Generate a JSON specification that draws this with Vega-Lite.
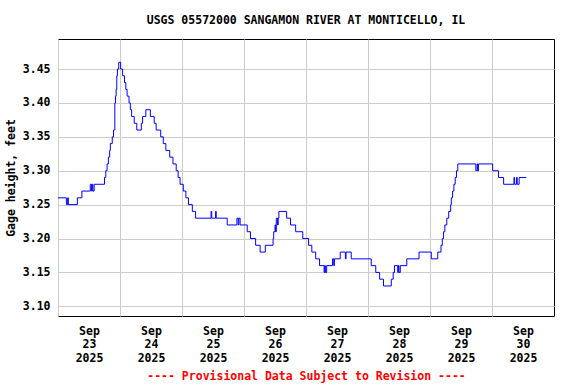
{
  "$schema": "https://vega.github.io/schema/vega-lite/v6.json",
  "width": 496,
  "height": 277,
  "autosize": {"type": "none"},
  "padding": {"left": 58, "top": 39, "right": 22, "bottom": 68},
  "background": "white",
  "title": {"text": "USGS 05572000 SANGAMON RIVER AT MONTICELLO, IL", "font": "DejaVu Sans Mono", "fontSize": 11.5, "fontWeight": "bold", "color": "black", "anchor": "middle", "offset": 13},
  "config": {"view": {"stroke": "black", "strokeWidth": 1}},
  "data": {"values": [
    {"t": "2025-09-23T00:00Z", "v": 3.26},
    {"t": "2025-09-23T03:15Z", "v": 3.25},
    {"t": "2025-09-23T03:45Z", "v": 3.26},
    {"t": "2025-09-23T04:00Z", "v": 3.25},
    {"t": "2025-09-23T07:30Z", "v": 3.26},
    {"t": "2025-09-23T09:15Z", "v": 3.27},
    {"t": "2025-09-23T12:30Z", "v": 3.28},
    {"t": "2025-09-23T13:00Z", "v": 3.27},
    {"t": "2025-09-23T13:15Z", "v": 3.28},
    {"t": "2025-09-23T13:30Z", "v": 3.27},
    {"t": "2025-09-23T14:00Z", "v": 3.28},
    {"t": "2025-09-23T18:00Z", "v": 3.29},
    {"t": "2025-09-23T18:30Z", "v": 3.30},
    {"t": "2025-09-23T19:00Z", "v": 3.31},
    {"t": "2025-09-23T19:30Z", "v": 3.32},
    {"t": "2025-09-23T20:00Z", "v": 3.33},
    {"t": "2025-09-23T20:15Z", "v": 3.34},
    {"t": "2025-09-23T21:00Z", "v": 3.35},
    {"t": "2025-09-23T21:30Z", "v": 3.36},
    {"t": "2025-09-23T22:00Z", "v": 3.40},
    {"t": "2025-09-23T22:15Z", "v": 3.41},
    {"t": "2025-09-23T22:30Z", "v": 3.42},
    {"t": "2025-09-23T22:45Z", "v": 3.44},
    {"t": "2025-09-23T23:00Z", "v": 3.45},
    {"t": "2025-09-23T23:30Z", "v": 3.46},
    {"t": "2025-09-24T00:15Z", "v": 3.45},
    {"t": "2025-09-24T01:00Z", "v": 3.44},
    {"t": "2025-09-24T01:45Z", "v": 3.43},
    {"t": "2025-09-24T02:15Z", "v": 3.42},
    {"t": "2025-09-24T02:45Z", "v": 3.41},
    {"t": "2025-09-24T03:30Z", "v": 3.40},
    {"t": "2025-09-24T04:00Z", "v": 3.39},
    {"t": "2025-09-24T04:30Z", "v": 3.38},
    {"t": "2025-09-24T05:30Z", "v": 3.37},
    {"t": "2025-09-24T06:30Z", "v": 3.36},
    {"t": "2025-09-24T08:15Z", "v": 3.37},
    {"t": "2025-09-24T08:45Z", "v": 3.38},
    {"t": "2025-09-24T10:00Z", "v": 3.39},
    {"t": "2025-09-24T11:45Z", "v": 3.38},
    {"t": "2025-09-24T13:15Z", "v": 3.37},
    {"t": "2025-09-24T14:00Z", "v": 3.36},
    {"t": "2025-09-24T15:45Z", "v": 3.35},
    {"t": "2025-09-24T16:45Z", "v": 3.34},
    {"t": "2025-09-24T17:45Z", "v": 3.33},
    {"t": "2025-09-24T19:15Z", "v": 3.32},
    {"t": "2025-09-24T20:30Z", "v": 3.31},
    {"t": "2025-09-24T21:45Z", "v": 3.30},
    {"t": "2025-09-24T22:30Z", "v": 3.29},
    {"t": "2025-09-24T23:15Z", "v": 3.28},
    {"t": "2025-09-25T00:30Z", "v": 3.27},
    {"t": "2025-09-25T01:30Z", "v": 3.26},
    {"t": "2025-09-25T02:30Z", "v": 3.25},
    {"t": "2025-09-25T04:00Z", "v": 3.24},
    {"t": "2025-09-25T05:15Z", "v": 3.23},
    {"t": "2025-09-25T11:15Z", "v": 3.24},
    {"t": "2025-09-25T11:30Z", "v": 3.23},
    {"t": "2025-09-25T13:00Z", "v": 3.24},
    {"t": "2025-09-25T13:15Z", "v": 3.23},
    {"t": "2025-09-25T17:30Z", "v": 3.22},
    {"t": "2025-09-25T21:15Z", "v": 3.23},
    {"t": "2025-09-25T21:45Z", "v": 3.22},
    {"t": "2025-09-25T22:00Z", "v": 3.23},
    {"t": "2025-09-25T22:30Z", "v": 3.22},
    {"t": "2025-09-26T01:15Z", "v": 3.21},
    {"t": "2025-09-26T02:30Z", "v": 3.20},
    {"t": "2025-09-26T04:30Z", "v": 3.19},
    {"t": "2025-09-26T06:15Z", "v": 3.18},
    {"t": "2025-09-26T08:15Z", "v": 3.19},
    {"t": "2025-09-26T11:15Z", "v": 3.20},
    {"t": "2025-09-26T11:30Z", "v": 3.21},
    {"t": "2025-09-26T12:00Z", "v": 3.22},
    {"t": "2025-09-26T12:15Z", "v": 3.21},
    {"t": "2025-09-26T12:30Z", "v": 3.23},
    {"t": "2025-09-26T13:00Z", "v": 3.22},
    {"t": "2025-09-26T13:15Z", "v": 3.23},
    {"t": "2025-09-26T13:30Z", "v": 3.24},
    {"t": "2025-09-26T16:30Z", "v": 3.23},
    {"t": "2025-09-26T18:00Z", "v": 3.22},
    {"t": "2025-09-26T20:00Z", "v": 3.21},
    {"t": "2025-09-26T22:45Z", "v": 3.20},
    {"t": "2025-09-27T01:00Z", "v": 3.19},
    {"t": "2025-09-27T02:15Z", "v": 3.18},
    {"t": "2025-09-27T03:45Z", "v": 3.17},
    {"t": "2025-09-27T05:15Z", "v": 3.16},
    {"t": "2025-09-27T07:00Z", "v": 3.15},
    {"t": "2025-09-27T07:15Z", "v": 3.16},
    {"t": "2025-09-27T07:30Z", "v": 3.15},
    {"t": "2025-09-27T08:00Z", "v": 3.16},
    {"t": "2025-09-27T10:15Z", "v": 3.17},
    {"t": "2025-09-27T10:45Z", "v": 3.16},
    {"t": "2025-09-27T11:00Z", "v": 3.17},
    {"t": "2025-09-27T13:15Z", "v": 3.18},
    {"t": "2025-09-27T15:15Z", "v": 3.17},
    {"t": "2025-09-27T15:30Z", "v": 3.18},
    {"t": "2025-09-27T17:30Z", "v": 3.17},
    {"t": "2025-09-28T01:15Z", "v": 3.16},
    {"t": "2025-09-28T03:00Z", "v": 3.15},
    {"t": "2025-09-28T04:30Z", "v": 3.14},
    {"t": "2025-09-28T06:00Z", "v": 3.13},
    {"t": "2025-09-28T09:00Z", "v": 3.14},
    {"t": "2025-09-28T09:45Z", "v": 3.15},
    {"t": "2025-09-28T10:15Z", "v": 3.16},
    {"t": "2025-09-28T11:30Z", "v": 3.15},
    {"t": "2025-09-28T11:45Z", "v": 3.16},
    {"t": "2025-09-28T12:00Z", "v": 3.15},
    {"t": "2025-09-28T12:30Z", "v": 3.16},
    {"t": "2025-09-28T15:00Z", "v": 3.17},
    {"t": "2025-09-28T19:45Z", "v": 3.18},
    {"t": "2025-09-29T00:30Z", "v": 3.17},
    {"t": "2025-09-29T03:00Z", "v": 3.18},
    {"t": "2025-09-29T04:15Z", "v": 3.19},
    {"t": "2025-09-29T04:45Z", "v": 3.20},
    {"t": "2025-09-29T05:15Z", "v": 3.21},
    {"t": "2025-09-29T05:45Z", "v": 3.22},
    {"t": "2025-09-29T06:30Z", "v": 3.23},
    {"t": "2025-09-29T07:15Z", "v": 3.24},
    {"t": "2025-09-29T08:00Z", "v": 3.25},
    {"t": "2025-09-29T08:15Z", "v": 3.26},
    {"t": "2025-09-29T08:45Z", "v": 3.27},
    {"t": "2025-09-29T09:15Z", "v": 3.28},
    {"t": "2025-09-29T09:45Z", "v": 3.29},
    {"t": "2025-09-29T10:15Z", "v": 3.30},
    {"t": "2025-09-29T10:45Z", "v": 3.31},
    {"t": "2025-09-29T17:45Z", "v": 3.30},
    {"t": "2025-09-29T18:15Z", "v": 3.31},
    {"t": "2025-09-29T18:30Z", "v": 3.30},
    {"t": "2025-09-29T18:45Z", "v": 3.31},
    {"t": "2025-09-30T00:15Z", "v": 3.30},
    {"t": "2025-09-30T02:30Z", "v": 3.29},
    {"t": "2025-09-30T04:30Z", "v": 3.28},
    {"t": "2025-09-30T08:30Z", "v": 3.29},
    {"t": "2025-09-30T08:45Z", "v": 3.28},
    {"t": "2025-09-30T09:30Z", "v": 3.29},
    {"t": "2025-09-30T09:45Z", "v": 3.28},
    {"t": "2025-09-30T10:30Z", "v": 3.29},
    {"t": "2025-09-30T13:15Z", "v": 3.29}
  ]},
  "mark": {"type": "line", "interpolate": "step-after", "color": "#0000ff", "strokeWidth": 1},
  "encoding": {
    "x": {
      "field": "t",
      "type": "temporal",
      "scale": {"type": "utc", "domain": [{"year": 2025, "month": "sep", "date": 23, "utc": true}, {"year": 2025, "month": "oct", "date": 1, "utc": true}]},
      "axis": {
        "values": [
          {"year": 2025, "month": "sep", "date": 23, "utc": true},
          {"year": 2025, "month": "sep", "date": 24, "utc": true},
          {"year": 2025, "month": "sep", "date": 25, "utc": true},
          {"year": 2025, "month": "sep", "date": 26, "utc": true},
          {"year": 2025, "month": "sep", "date": 27, "utc": true},
          {"year": 2025, "month": "sep", "date": 28, "utc": true},
          {"year": 2025, "month": "sep", "date": 29, "utc": true},
          {"year": 2025, "month": "sep", "date": 30, "utc": true}
        ],
        "grid": true,
        "gridColor": "#cccccc",
        "gridWidth": 1,
        "ticks": false,
        "domain": false,
        "labelExpr": "[utcFormat(datum.value, '%b'), utcFormat(datum.value, '%d'), utcFormat(datum.value, '%Y')]",
        "labelOffset": 31,
        "labelFont": "DejaVu Sans Mono",
        "labelFontSize": 11.5,
        "labelFontWeight": "bold",
        "labelColor": "black",
        "labelLineHeight": 13.5,
        "labelPadding": 9,
        "labelAngle": 0,
        "labelAlign": "center",
        "labelBaseline": "top",
        "labelOverlap": false,
        "labelFlush": false,
        "title": "---- Provisional Data Subject to Revision ----",
        "titleColor": "#ff0000",
        "titleFont": "DejaVu Sans Mono",
        "titleFontSize": 11.5,
        "titleFontWeight": "bold",
        "titlePadding": 7
      }
    },
    "y": {
      "field": "v",
      "type": "quantitative",
      "scale": {"domain": [3.0857, 3.4943], "nice": false, "zero": false},
      "axis": {
        "values": [3.10, 3.15, 3.20, 3.25, 3.30, 3.35, 3.40, 3.45],
        "format": ".2f",
        "grid": true,
        "gridColor": "#cccccc",
        "gridWidth": 1,
        "ticks": false,
        "domain": false,
        "labelFont": "DejaVu Sans Mono",
        "labelFontSize": 11.5,
        "labelFontWeight": "bold",
        "labelColor": "black",
        "labelPadding": 8,
        "labelFlush": false,
        "title": "Gage height, feet",
        "titleFont": "DejaVu Sans Mono",
        "titleFontSize": 11.5,
        "titleFontWeight": "bold",
        "titleColor": "black",
        "titlePadding": 6
      }
    }
  }
}
